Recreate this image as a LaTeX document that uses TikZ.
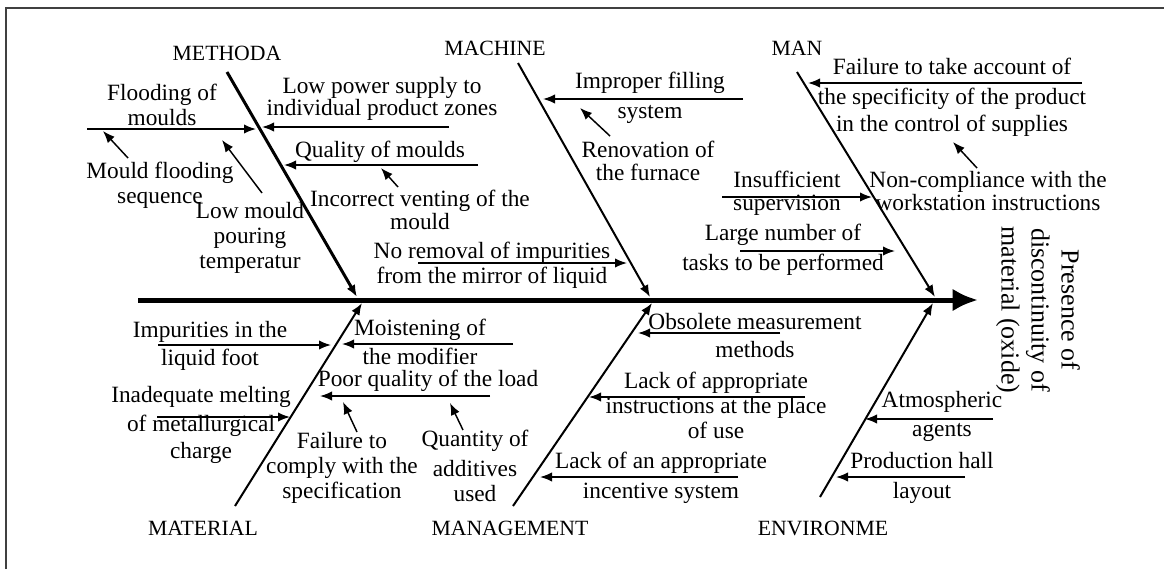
\documentclass[tikz,border=0pt]{standalone}
\usepackage{fontspec}
\setmainfont{Liberation Serif}
\usetikzlibrary{arrows.meta}

\begin{document}
\begin{tikzpicture}[x=0.75pt,y=-0.75pt]
		\tikzstyle{txt} = [align=center, inner sep=0pt, font=\fontsize{17.5}{18.75}\selectfont]
		\tikzstyle{lbl} = [inner sep=0pt, font=\fontsize{16.3}{18}\selectfont]
		\tikzstyle{boneline} = [line width=1.5pt, -{Latex[length=9pt,width=7pt]}]
		\tikzstyle{causeline} = [line width=1.2pt, -{Latex[length=9pt,width=7pt]}]
		\tikzstyle{subarrow} = [line width=1.1pt, -{Latex[length=9pt,width=7pt]}]
		
		\useasboundingbox (0,0) rectangle (1164,569);
		\draw [line width=1pt, black!75] (6,569) -- (6,8) -- (1164,8);
		
		% spine and effect
		\coordinate (s0) at (138,300);
		\coordinate (s1) at (978,300);
		\draw [line width=3.75pt, -{Latex[length=19pt,width=17pt]}] (s0) -- (s1);
		\node (pres) [txt, rotate=-90, font=\fontsize{19.5}{22.5}\selectfont] at (1038,310) {Presence of\\discontinuity of\\material (oxide)};
		
		% bones
		\node (met) [lbl] at (227,53) {METHODA};
		\node (mac) [lbl] at (495,48) {MACHINE};
		\node (man) [lbl] at (797,48) {MAN};
		\node (mat) [lbl] at (203,528) {MATERIAL};
		\node (mng) [lbl] at (510,528) {MANAGEMENT};
		\node (env) [lbl] at (823,528) {ENVIRONME};
		\coordinate (met0) at (227,72);  \coordinate (met1) at (357,297);
		\coordinate (mac0) at (518,63);  \coordinate (mac1) at (650,297);
		\coordinate (man0) at (797,72);  \coordinate (man1) at (935,297);
		\coordinate (mat0) at (235,506); \coordinate (mat1) at (362,303);
		\coordinate (mng0) at (513,506); \coordinate (mng1) at (652,303);
		\coordinate (env0) at (820,497); \coordinate (env1) at (933,303);
		\draw [boneline, line width=2.25pt] (met0) -- (met1);
		\draw [boneline] (mac0) -- (mac1);
		\draw [boneline] (man0) -- (man1);
		\draw [boneline] (mat0) -- (mat1);
		\draw [boneline] (mng0) -- (mng1);
		\draw [boneline] (env0) -- (env1);
		
		% METHODA
		\node (c1) [txt] at (162,105) {Flooding of\\moulds};
		\coordinate (c1a) at (87,129);  \coordinate (c1b) at (256,129);
		\draw [causeline] (c1a) -- (c1b);
		\node (c11) [txt] at (160,185) {Mould flooding\\sequence};
		\coordinate (c11a) at (128,158); \coordinate (c11b) at (103,131);
		\draw [subarrow] (c11a) -- (c11b);
		\node (c12) [txt] at (250,238) {Low mould\\pouring\\temperatur};
		\coordinate (c12a) at (262,193); \coordinate (c12b) at (222,140);
		\draw [subarrow] (c12a) -- (c12b);
		\node (c2) [txt] at (382,99) {Low power supply to\\[-2pt]individual product zones};
		\coordinate (c2a) at (449,127); \coordinate (c2b) at (262,127);
		\draw [causeline] (c2a) -- (c2b);
		\node (c3) [txt] at (380,152) {Quality of moulds};
		\coordinate (c3a) at (478,165); \coordinate (c3b) at (284,165);
		\draw [causeline] (c3a) -- (c3b);
		\node (c31) [txt] at (420,210) {Incorrect venting of the\\[-1.5pt]mould};
		\coordinate (c31a) at (398,187); \coordinate (c31b) at (381,168);
		\draw [subarrow] (c31a) -- (c31b);
		\node (c4) [txt] at (492,265) {No removal of impurities\\from the mirror of liquid};
		\coordinate (c4a) at (418,263); \coordinate (c4b) at (627,263);
		\draw [causeline] (c4a) -- (c4b);
		
		% MACHINE
		\node (c5) [txt] at (650,98) {Improper filling\\[3.75pt]system};
		\coordinate (c5a) at (743,99); \coordinate (c5b) at (543,99);
		\draw [causeline] (c5a) -- (c5b);
		\node (c51) [txt] at (648,161) {Renovation of\\[-1.5pt]the furnace};
		\coordinate (c51a) at (610,136); \coordinate (c51b) at (580,108);
		\draw [subarrow] (c51a) -- (c51b);
		
		% MAN
		\node (c6) [txt] at (952,97) {Failure to take account of\\[3.75pt]the specificity of the product\\[1.5pt]in the control of supplies};
		\coordinate (c6a) at (1082,83); \coordinate (c6b) at (808,83);
		\draw [causeline] (c6a) -- (c6b);
		\node (c61) [txt] at (988,191) {Non-compliance with the\\[-1.5pt]workstation instructions};
		\coordinate (c61a) at (977,168); \coordinate (c61b) at (953,142);
		\draw [subarrow] (c61a) -- (c61b);
		\node (c7) [txt] at (787,193) {Insufficient\\[-1.5pt]supervision};
		\coordinate (c7a) at (722,197); \coordinate (c7b) at (872,197);
		\draw [causeline] (c7a) -- (c7b);
		\node (c8) [txt] at (783,250) {Large number of\\[3.75pt]tasks to be performed};
		\coordinate (c8a) at (740,251); \coordinate (c8b) at (895,251);
		\draw [causeline] (c8a) -- (c8b);
		
		% MATERIAL
		\node (c9) [txt] at (210,346) {Impurities in the\\[2.25pt]liquid foot};
		\coordinate (c9a) at (158,345); \coordinate (c9b) at (331,345);
		\draw [causeline] (c9a) -- (c9b);
		\node (c10) [txt] at (201,425) {Inadequate melting\\[3pt]of metallurgical\\[1.5pt]charge};
		\coordinate (c10a) at (157,417); \coordinate (c10b) at (290,417);
		\draw [causeline] (c10a) -- (c10b);
		\node (c11m) [txt] at (420,342) {Moistening of\\[3pt]the modifier};
		\coordinate (c11ma) at (513,344); \coordinate (c11mb) at (342,344);
		\draw [causeline] (c11ma) -- (c11mb);
		\node (c13) [txt] at (428,381) {Poor quality of the load};
		\coordinate (c13a) at (490,396); \coordinate (c13b) at (320,396);
		\draw [causeline] (c13a) -- (c13b);
		\node (c131) [txt] at (342,468) {Failure to\\comply with the\\specification};
		\coordinate (c131a) at (357,432); \coordinate (c131b) at (343,402);
		\draw [subarrow] (c131a) -- (c131b);
		\node (c132) [txt] at (475,466) {Quantity of\\[3.75pt]additives\\used};
		\coordinate (c132a) at (463,430); \coordinate (c132b) at (450,403);
		\draw [subarrow] (c132a) -- (c132b);
		
		% MANAGEMENT
		\node (c14) [txt] at (755,336) {Obsolete measurement\\[2.25pt]methods};
		\coordinate (c14a) at (780,333); \coordinate (c14b) at (638,333);
		\draw [causeline] (c14a) -- (c14b);
		\node (c15) [txt] at (716,405) {Lack of appropriate\\instructions at the place\\of use};
		\coordinate (c15a) at (805,397); \coordinate (c15b) at (589,397);
		\draw [causeline] (c15a) -- (c15b);
		\node (c16) [txt] at (661,478) {Lack of an appropriate\\[3.75pt]incentive system};
		\coordinate (c16a) at (738,477); \coordinate (c16b) at (540,477);
		\draw [causeline] (c16a) -- (c16b);
		
		% ENVIRONME
		\node (c17) [txt] at (942,416) {Atmospheric\\[3pt]agents};
		\coordinate (c17a) at (993,419); \coordinate (c17b) at (865,419);
		\draw [causeline] (c17a) -- (c17b);
		\node (c18) [txt] at (922,478) {Production hall\\[3.75pt]layout};
		\coordinate (c18a) at (965,477); \coordinate (c18b) at (836,477);
		\draw [causeline] (c18a) -- (c18b);
\end{tikzpicture}
\end{document}
